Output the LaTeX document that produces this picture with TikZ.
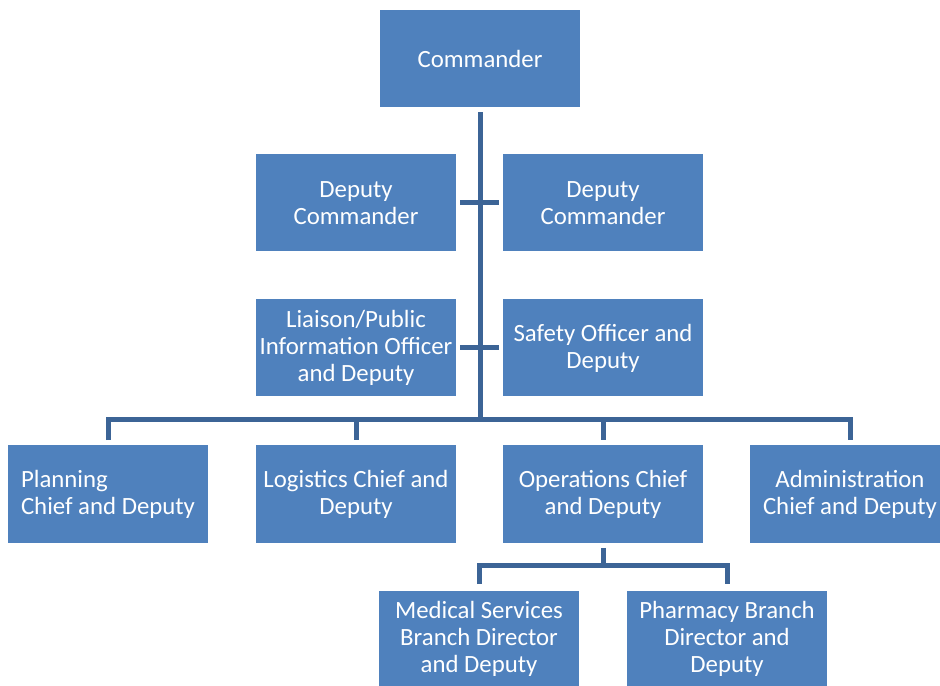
\documentclass[tikz,border=0pt]{standalone}
\usepackage{fontspec}
\setmainfont{Carlito}
\usetikzlibrary{positioning}
\definecolor{boxblue}{RGB}{79,129,189}
\definecolor{linkblue}{RGB}{60,100,150}

\begin{document}
\begin{tikzpicture}[x=0.5pt,y=0.5pt,
	box/.style={fill=boxblue,text=white,minimum width=100pt,minimum height=48.5pt,
		inner sep=0pt,align=center,font=\fontsize{12.4}{13.5}\selectfont},
	link/.style={draw=linkblue,line width=2.5pt}]
	\useasboundingbox (0,0) rectangle (940,685);
	\node[box] (cmd) at (480,626.5) {Commander};
	\node[box] (depl) at (356,482) {Deputy\\Commander};
	\node[box] (depr) at (603,482) {Deputy\\Commander};
	\node[box] (pio) at (356,337) {Liaison/Public\\Information Officer\\and Deputy};
	\node[box] (safety) at (603,337) {Safety Officer and\\Deputy};
	\node[box,align=left] (plan) at (108,191) {Planning\\Chief and Deputy};
	\node[box] (logi) at (356,191) {Logistics Chief and\\Deputy};
	\node[box] (ops) at (603,191) {Operations Chief\\and Deputy};
	\node[box] (admin) at (850,191) {Administration\\Chief and Deputy};
	\node[box] (med) at (479,46) {Medical Services\\Branch Director\\and Deputy};
	\node[box] (pharm) at (727,46) {Pharmacy Branch\\Director and\\Deputy};
	\coordinate (bus) at (480,265);
	\coordinate (subbus) at (603,120);
	\draw[link,shorten <=2.5pt] (cmd.south) -- (bus);
	\draw[link,shorten <=2pt,shorten >=2pt] (depl.east) -- (depr.west);
	\draw[link,shorten <=2pt,shorten >=2pt] (pio.east) -- (safety.west);
	\draw[link] ([yshift=2.5pt]plan.north) |- (bus) -| ([yshift=2.5pt]admin.north);
	\foreach \n in {logi,ops}
		\draw[link] (bus -| \n.north) -- ([yshift=2.5pt]\n.north);
	\draw[link,shorten <=2.5pt] (ops.south) -- (subbus);
	\draw[link] ([yshift=3pt]med.north) |- (subbus) -| ([yshift=3pt]pharm.north);
\end{tikzpicture}
\end{document}
